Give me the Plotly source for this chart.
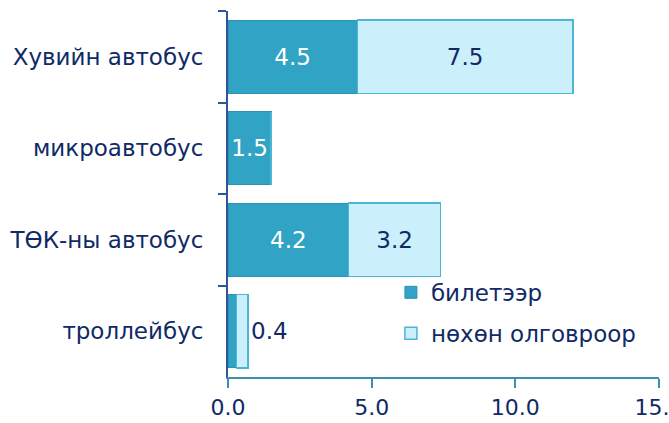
import plotly.graph_objects as go

categories = ["Хувийн автобус", "микроавтобус", "ТӨК-ны автобус", "троллейбус"]
ticket = [4.5, 1.5, 4.2, 0.3]
ticket_text = ["4.5", "1.5", "4.2", ""]
compensation = [7.5, 0.0, 3.2, 0.4]
comp_text = ["7.5", "", "3.2", "0.4"]
comp_textpos = ["inside", "inside", "inside", "outside"]
x_ticks = [0, 5, 10, 15]
x_ticklabels = ["0.0", "5.0", "10.0", "15.0"]

FONT = "DejaVu Sans"
NAVY = "#0F2A66"
FS = 23

fig = go.Figure()
fig.add_trace(go.Bar(
    y=categories, x=ticket, orientation="h", name="билетээр",
    legendgroup="a",
    marker=dict(color="#31A3C4", line=dict(color="#2B93B3", width=1)),
    text=ticket_text, textposition="inside", insidetextanchor="middle",
    textfont=dict(family=FONT, size=FS, color="white"),
    hoverinfo="x+y",
))
fig.add_trace(go.Bar(
    y=categories, x=compensation, orientation="h", name="нөхөн олговроор",
    legendgroup="b",
    marker=dict(color="#CBF0FB", line=dict(color="#4DB6D4", width=1.5)),
    text=comp_text, textposition=comp_textpos, insidetextanchor="middle",
    textfont=dict(family=FONT, size=FS, color=NAVY),
    outsidetextfont=dict(family=FONT, size=FS, color=NAVY),
    cliponaxis=False,
    hoverinfo="x+y",
))

fig.update_layout(
    width=669, height=423,
    barmode="stack", bargap=0.2,
    plot_bgcolor="white", paper_bgcolor="white",
    margin=dict(l=228, r=10, t=11, b=46, autoexpand=False),
    font=dict(family=FONT, size=FS, color=NAVY),
    showlegend=True,
    legend=dict(
        x=0.378, y=0.29, xanchor="left", yanchor="top",
        traceorder="grouped", bgcolor="rgba(0,0,0,0)",
        font=dict(family=FONT, size=FS, color=NAVY),
        itemwidth=30, tracegroupgap=8,
    ),
)
fig.update_xaxes(
    range=[0, 15], tickvals=x_ticks, ticktext=x_ticklabels,
    showgrid=False, zeroline=False, automargin=False,
    ticklabeloverflow="allow", ticklabelstandoff=1,
    showline=True, linecolor="#3B8FB0", linewidth=2,
    ticks="outside", ticklen=9, tickcolor="#3B8FB0", tickwidth=2,
    tickfont=dict(family=FONT, size=22, color=NAVY),
)
fig.update_yaxes(
    categoryorder="array", categoryarray=categories, autorange="reversed",
    showgrid=False, zeroline=False, automargin=False,
    showline=True, linecolor="#2F5597", linewidth=2,
    ticks="outside", ticklen=8, tickcolor="#2F5597", tickwidth=2,
    tickson="boundaries", ticklabelstandoff=18,
    tickfont=dict(family=FONT, size=FS, color=NAVY),
)

fig.write_html(
    "out.html",
    config={"displayModeBar": False},
    post_script="document.body.style.margin='0';",
)
